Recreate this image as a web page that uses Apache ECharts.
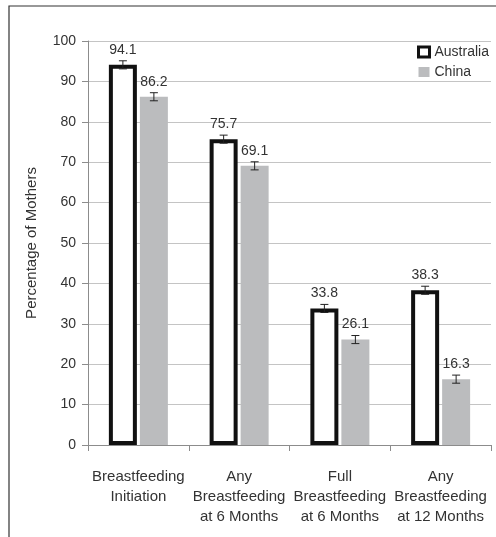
<!DOCTYPE html>
<html><head><meta charset="utf-8">
<script src="https://cdn.jsdelivr.net/npm/echarts@6/dist/echarts.min.js"></script>
<style>html,body{margin:0;padding:0;background:#fff}#c{width:496px;height:537px}</style>
</head><body><div id="c"></div>
<script>
var categories = ['Breastfeeding\nInitiation', 'Any\nBreastfeeding\nat 6 Months', 'Full\nBreastfeeding\nat 6 Months', 'Any\nBreastfeeding\nat 12 Months'];
var australia = [94.1, 75.7, 33.8, 38.3];
var china = [86.2, 69.1, 26.1, 16.3];
var australiaErr = [1.0, 1.0, 1.0, 1.0];
var chinaErr = [1.0, 1.0, 1.0, 1.0];
var yTicks = [0, 10, 20, 30, 40, 50, 60, 70, 80, 90, 100];

var FONT = 'Liberation Sans';
var BW = 28, GAP = 3;
function errSeries(vals, errs, offset) {
  return {
    type: 'custom', z: 10,
    data: vals.map(function (v, i) { return [i, v - errs[i], v + errs[i]]; }),
    renderItem: function (params, api) {
      var lo = api.coord([api.value(0), api.value(1)]);
      var hi = api.coord([api.value(0), api.value(2)]);
      var x = lo[0] + offset, hw = 4;
      var st = { stroke: '#222', lineWidth: 1 };
      return { type: 'group', children: [
        { type: 'line', shape: { x1: x, y1: lo[1], x2: x, y2: hi[1] }, style: st },
        { type: 'line', shape: { x1: x - hw, y1: lo[1], x2: x + hw, y2: lo[1] }, style: st },
        { type: 'line', shape: { x1: x - hw, y1: hi[1], x2: x + hw, y2: hi[1] }, style: st }
      ]};
    },
    silent: true
  };
}
var chart = echarts.init(document.getElementById('c'));
chart.setOption({
  animation: false,
  textStyle: { fontFamily: FONT },
  graphic: [{ type: 'rect', shape: { x: 9, y: 6, width: 700, height: 700 }, style: { fill: 'none', stroke: '#333', lineWidth: 1.2 }, z: -1 }],
  grid: { left: 88, right: 5, top: 41, bottom: 92 },
  legend: {
    orient: 'vertical', left: 412, top: 40, itemWidth: 11, itemHeight: 10, itemGap: 6,
    textStyle: { fontSize: 14, color: '#333', fontFamily: FONT },
    data: [
      { name: 'Australia', icon: 'rect', itemStyle: { color: '#fff', borderColor: '#111', borderWidth: 3 } },
      { name: 'China', icon: 'rect', itemStyle: { color: '#bbbcbe', borderWidth: 0 } }
    ]
  },
  xAxis: {
    type: 'category', data: categories,
    axisLine: { lineStyle: { color: '#8c8c8c' } },
    axisTick: { show: true, length: 6, lineStyle: { color: '#8c8c8c' } },
    axisLabel: { color: '#333', fontSize: 15, lineHeight: 20, margin: 22, interval: 0 }
  },
  yAxis: {
    type: 'value', min: 0, max: 100, interval: 10,
    name: 'Percentage of Mothers', nameLocation: 'middle', nameGap: 49,
    nameTextStyle: { color: '#333', fontSize: 15 },
    axisLine: { show: true, lineStyle: { color: '#8c8c8c' } },
    axisTick: { show: true, length: 6, lineStyle: { color: '#8c8c8c' } },
    splitLine: { lineStyle: { color: '#c4c4c4' } },
    axisLabel: { color: '#333', fontSize: 14, margin: 12,
      formatter: function (v) { return yTicks.indexOf(v) >= 0 ? String(v) : ''; } }
  },
  series: [
    { name: 'Australia', type: 'bar', data: australia, barWidth: BW, barGap: (GAP / BW * 100) + '%',
      itemStyle: { color: '#fff', borderColor: '#111', borderWidth: 4 },
      label: { show: true, position: 'top', distance: 8, color: '#333', fontSize: 14 } },
    { name: 'China', type: 'bar', data: china, barWidth: BW,
      itemStyle: { color: '#bbbcbe' },
      label: { show: true, position: 'top', distance: 8, color: '#333', fontSize: 14 } },
    errSeries(australia, australiaErr, -(BW + GAP) / 2),
    errSeries(china, chinaErr, (BW + GAP) / 2)
  ]
});
</script></body></html>
